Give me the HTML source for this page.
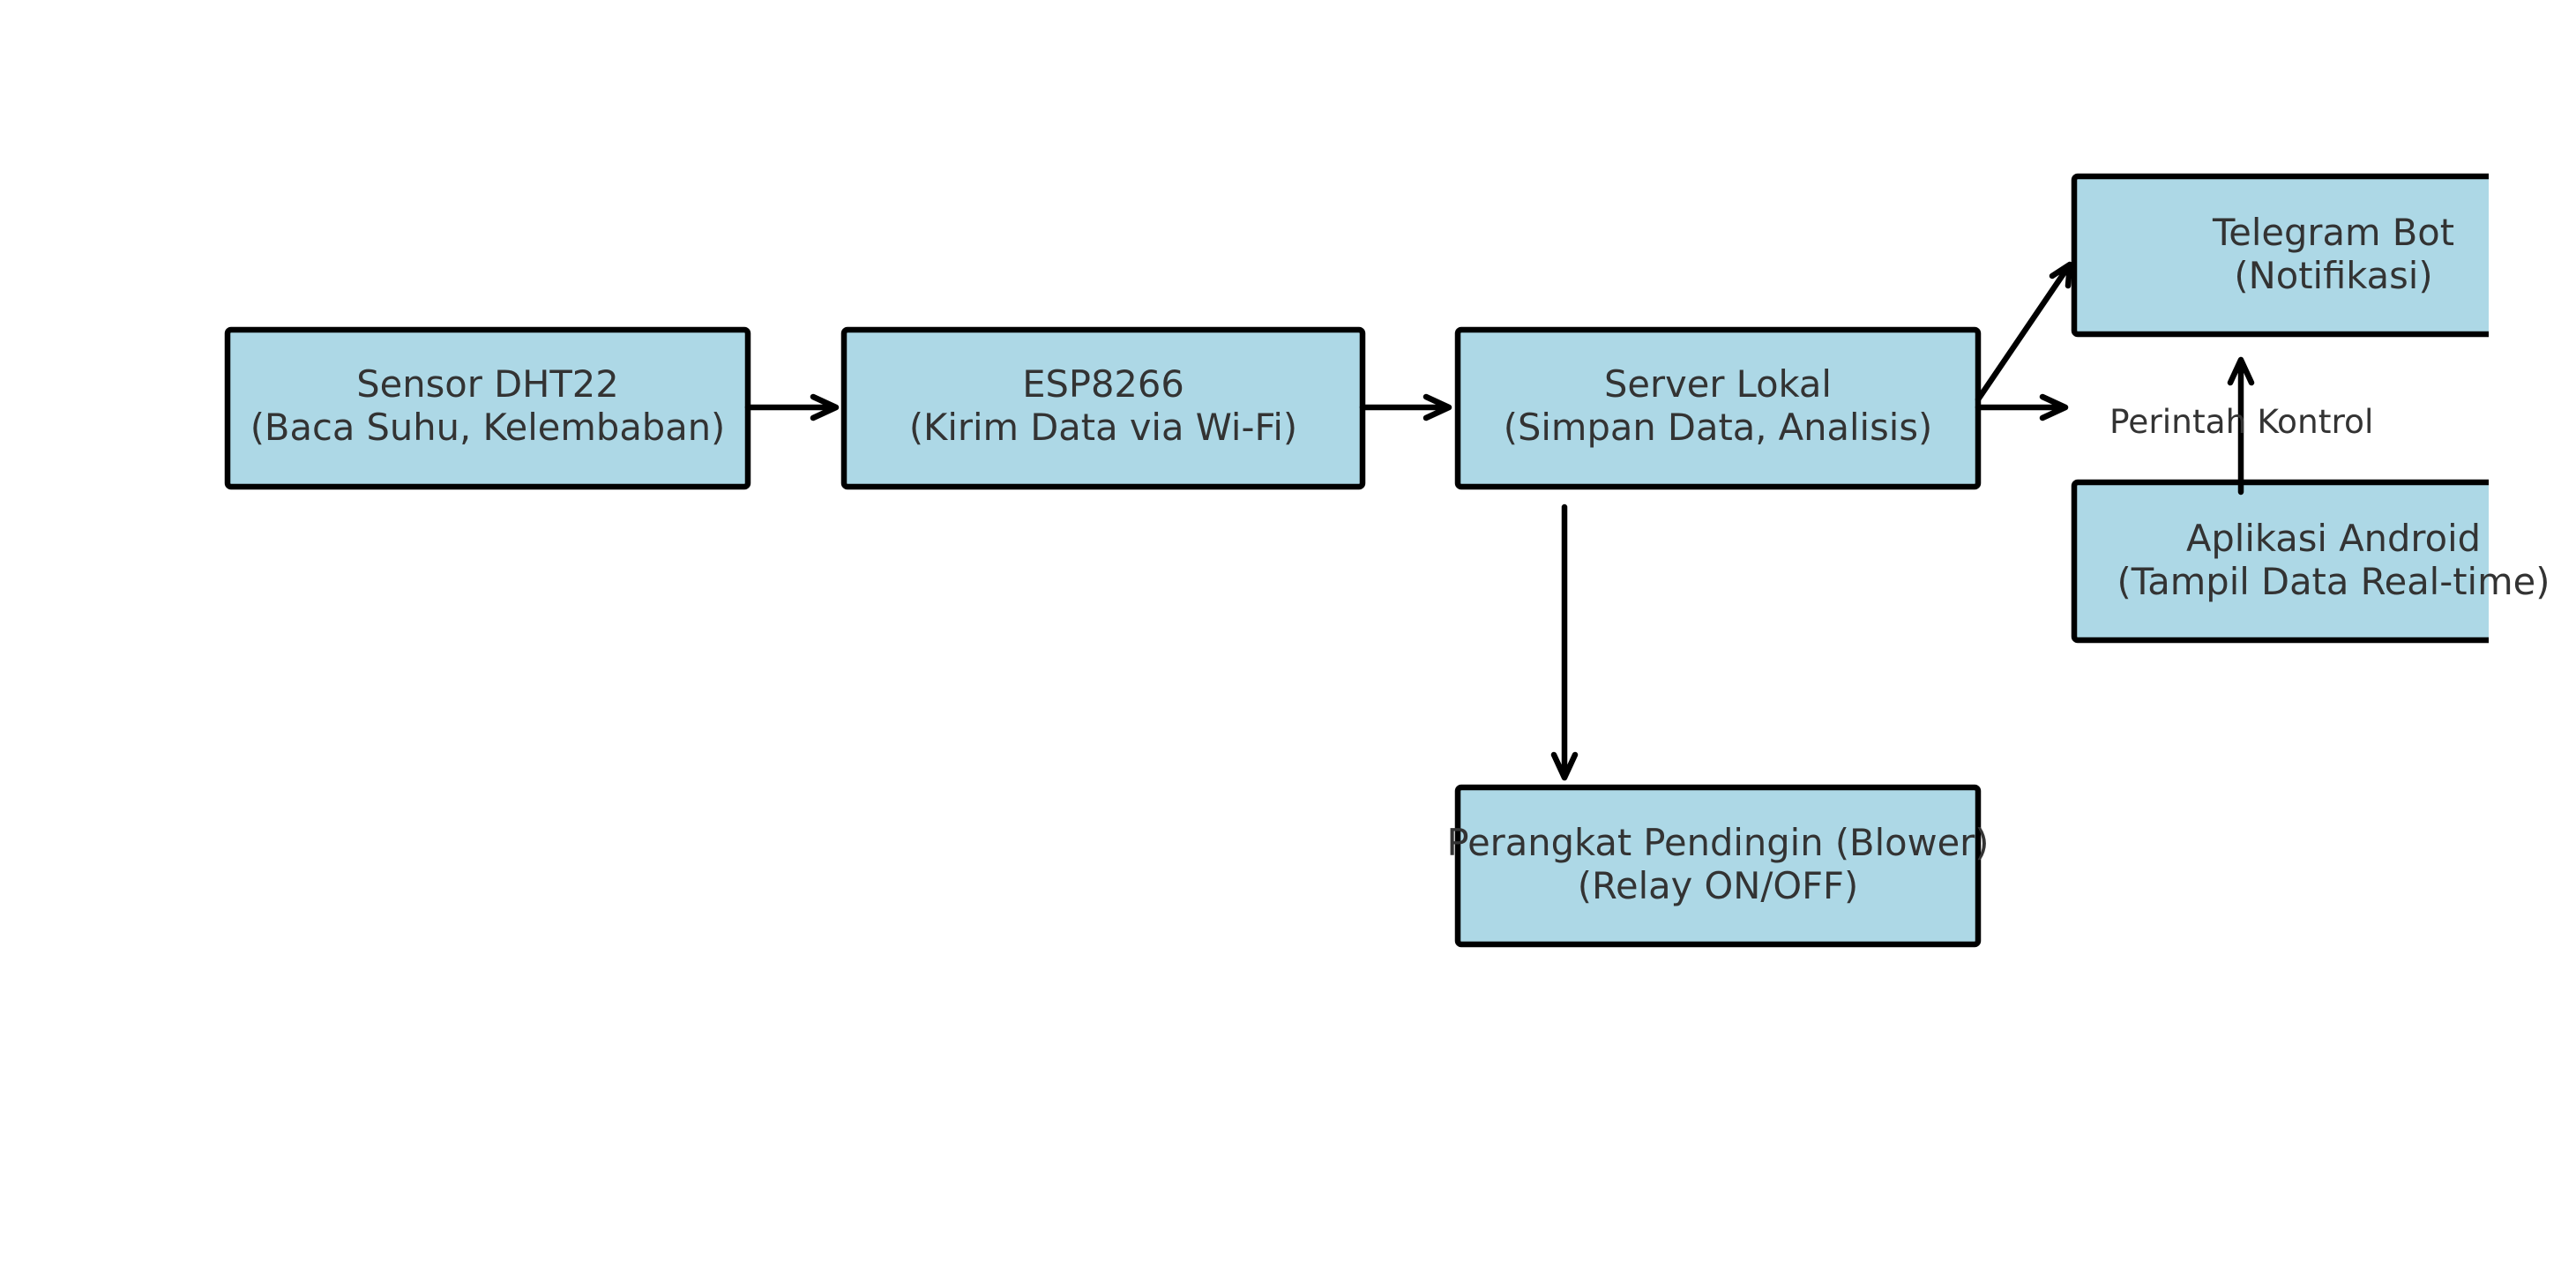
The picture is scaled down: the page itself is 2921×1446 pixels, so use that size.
<!DOCTYPE html>
<html><head><style>
html,body{margin:0;padding:0;background:#fff;}
svg{display:block;}
text{font-family:"DejaVu Sans","Liberation Sans",sans-serif;fill:#333;}
</style></head><body>
<svg width="2921" height="1446" viewBox="0 0 2921 1446" xmlns="http://www.w3.org/2000/svg">
<defs>
<clipPath id="c"><rect x="0" y="0" width="2822" height="1446"/></clipPath>
</defs>
<g fill="#add8e6" stroke="#000" stroke-width="6.5" stroke-linejoin="round">
<rect x="258" y="374" width="590" height="178" rx="4"/>
<rect x="957" y="374" width="588" height="178" rx="4"/>
<rect x="1653" y="374" width="590" height="178" rx="4"/>
<rect x="1653" y="893" width="590" height="178" rx="4"/>
<g clip-path="url(#c)">
<rect x="2352" y="200" width="600" height="179" rx="4"/>
<rect x="2352" y="547" width="600" height="179" rx="4"/>
</g>
</g>
<g fill="none" stroke="#000" stroke-width="6.5" stroke-linecap="round" stroke-linejoin="round">
<path d="M848 462H948M922 450L948 462L922 474"/>
<path d="M1545 462H1643M1617 450L1643 462L1617 474"/>
<path d="M2243 462H2342M2316 450L2342 462L2316 474"/>
<path d="M2243 453L2347 300M2327 313L2347 300L2345 324"/>
<path d="M1774 575V882M1762 856L1774 882L1786 856"/>
<path d="M2541 558V408M2529 434L2541 408L2553 434"/>
</g>
<g font-size="41.6" text-anchor="middle">
<text x="553" y="450">Sensor DHT22</text>
<text x="553" y="499">(Baca Suhu, Kelembaban)</text>
<text x="1251" y="450">ESP8266</text>
<text x="1251" y="499">(Kirim Data via Wi-Fi)</text>
<text x="1948" y="450">Server Lokal</text>
<text x="1948" y="499">(Simpan Data, Analisis)</text>
<text x="1948" y="970">Perangkat Pendingin (Blower)</text>
<text x="1948" y="1019">(Relay ON/OFF)</text>
<text x="2646" y="278">Telegram Bot</text>
<text x="2646" y="327">(Notifikasi)</text>
<text x="2646" y="625">Aplikasi Android</text>
<text x="2646" y="674">(Tampil Data Real-time)</text>
</g>
<text x="2392" y="491" font-size="37.5">Perintah Kontrol</text>
</svg>
</body></html>
